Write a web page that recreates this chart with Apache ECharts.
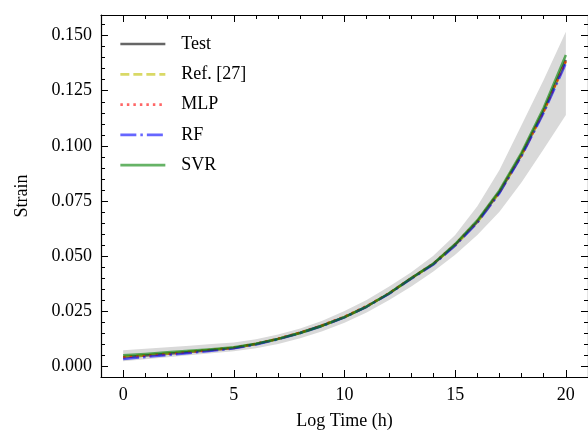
<!DOCTYPE html>
<html><head><meta charset="utf-8">
<script src="https://cdn.jsdelivr.net/npm/echarts@6/dist/echarts.min.js"></script>
<style>html,body{margin:0;padding:0;background:#fff}#c{width:588px;height:435px}</style>
</head><body><div id="c"></div>
<script>
const logTime = [0,1,2,3,4,5,6,7,8,9,10,11,12,13,14,15,16,17,18,19,20];
const testStrain = [0.0040,0.0048,0.0056,0.0064,0.0073,0.0082,0.0100,0.0123,0.0151,0.0184,0.0222,0.0270,0.0328,0.0397,0.0462,0.0550,0.0655,0.0790,0.0960,0.1160,0.1390];
const ref27Strain = [0.0041,0.0048,0.0056,0.0065,0.0073,0.0083,0.0100,0.0123,0.0151,0.0184,0.0223,0.0271,0.0329,0.0396,0.0462,0.0549,0.0653,0.0788,0.0958,0.1155,0.1383];
const mlpStrain = [0.0040,0.0047,0.0055,0.0064,0.0073,0.0083,0.0101,0.0124,0.0152,0.0185,0.0224,0.0272,0.0330,0.0398,0.0464,0.0552,0.0657,0.0791,0.0959,0.1157,0.1385];
const rfStrain = [0.0032,0.0041,0.0050,0.0059,0.0069,0.0080,0.0098,0.0121,0.0149,0.0182,0.0221,0.0269,0.0327,0.0395,0.0460,0.0547,0.0651,0.0785,0.0954,0.1150,0.1375];
const svrStrain = [0.0049,0.0055,0.0062,0.0069,0.0076,0.0085,0.0101,0.0123,0.0150,0.0183,0.0222,0.0270,0.0329,0.0398,0.0464,0.0554,0.0661,0.0797,0.0969,0.1173,0.1412];
const bandUpper = [0.0072,0.0078,0.0085,0.0092,0.0100,0.0107,0.0122,0.0143,0.0170,0.0205,0.0250,0.0300,0.0360,0.0425,0.0500,0.0595,0.0725,0.0890,0.1095,0.1300,0.1518];
const bandLower = [0.0022,0.0031,0.0040,0.0049,0.0058,0.0067,0.0080,0.0100,0.0126,0.0158,0.0196,0.0243,0.0298,0.0360,0.0428,0.0505,0.0595,0.0700,0.0835,0.0985,0.1140];
const xMajorTicks = [0,5,10,15,20];
const xMinorTicks = [1,2,3,4,6,7,8,9,11,12,13,14,16,17,18,19];
const yMajorTicks = [0,0.025,0.05,0.075,0.1,0.125,0.15];
const yMinorTicks = [0.005,0.01,0.015,0.02,0.03,0.035,0.04,0.045,0.055,0.06,0.065,0.07,0.08,0.085,0.09,0.095,0.105,0.11,0.115,0.12,0.13,0.135,0.14,0.145,0.155];

const FONT = 'Liberation Serif';
const pairs = arr => logTime.map((x, i) => [x, arr[i]]);
const txt = {color:'#000', fontFamily:FONT, fontSize:18};

function xAx(pos, major, label){
  return {type:'value', min:-1, max:21, position:pos, splitLine:{show:false},
    axisLine:{show:major, onZero:false, lineStyle:{color:'#000', width:1.2}},
    axisTick:{show:true, inside:true, length: major?7:4, customValues: major?xMajorTicks:xMinorTicks, lineStyle:{color:'#000', width:1}},
    axisLabel: label ? Object.assign({show:true, customValues:xMajorTicks, margin:9, formatter:v=>String(v)}, txt) : {show:false},
    name: label ? 'Log Time (h)' : '', nameLocation:'middle', nameGap:35, nameTextStyle:txt};
}
function yAx(pos, major, label){
  return {type:'value', min:-0.005, max:0.1594, position:pos, splitLine:{show:false},
    axisLine:{show:major, onZero:false, lineStyle:{color:'#000', width:1.2}},
    axisTick:{show:true, inside:true, length: major?7:4, customValues: major?yMajorTicks:yMinorTicks, lineStyle:{color:'#000', width:1}},
    axisLabel: label ? Object.assign({show:true, customValues:yMajorTicks, margin:9, formatter:v=>v.toFixed(3)}, txt) : {show:false},
    name: label ? 'Strain' : '', nameLocation:'middle', nameGap:70, nameTextStyle:txt};
}

function lineSeries(name, arr, color, type){
  return {name, type:'line', data:pairs(arr), symbol:'none', smooth:false,
    lineStyle:{color, width:2.5, type, cap:'butt', join:'round'}, itemStyle:{color}, z:3};
}

const bandData = logTime.map((x, i) => [x, bandLower[i], bandUpper[i]]);

const chart = echarts.init(document.getElementById('c'), null, {renderer:'canvas'});
chart.setOption({
  animation:false,
  backgroundColor:'#fff',
  grid:{left:101, top:15, width:491, height:362},
  xAxis:[xAx('bottom',true,true), xAx('bottom',false,false), xAx('top',true,false), xAx('top',false,false)],
  yAxis:[yAx('left',true,true), yAx('left',false,false), yAx('right',true,false), yAx('right',false,false)],
  legend:{orient:'vertical', left:114, top:30, itemWidth:45, itemHeight:14, itemGap:12.3,
    data:['Test','Ref. [27]','MLP','RF','SVR'],
    itemStyle:{color:'transparent', borderColor:'transparent', borderWidth:0, opacity:0},
    lineStyle:{width:2.7},
    textStyle:Object.assign({padding:[0,0,0,11]}, txt)},
  series:[
    {name:'band', type:'custom', data:bandData, silent:true, z:1, clip:true,
      encode:{x:0, y:[1,2]},
      renderItem:function(params, api){
        if (params.dataIndex !== 0) return null;
        const up = bandData.map(d => api.coord([d[0], d[2]]));
        const lo = bandData.map(d => api.coord([d[0], d[1]])).reverse();
        return {type:'polygon', shape:{points: up.concat(lo)}, style:{fill:'#d9d9d9', stroke:null}};
      }},
    lineSeries('Test', testStrain, 'rgba(0,0,0,0.6)', 'solid'),
    lineSeries('Ref. [27]', ref27Strain, 'rgba(191,191,0,0.6)', [9,4]),
    lineSeries('MLP', mlpStrain, 'rgba(255,0,0,0.6)', [2.5,4]),
    lineSeries('RF', rfStrain, 'rgba(0,0,255,0.6)', [16,4,2.5,4]),
    lineSeries('SVR', svrStrain, 'rgba(0,128,0,0.6)', 'solid')
  ]
});
</script></body></html>
